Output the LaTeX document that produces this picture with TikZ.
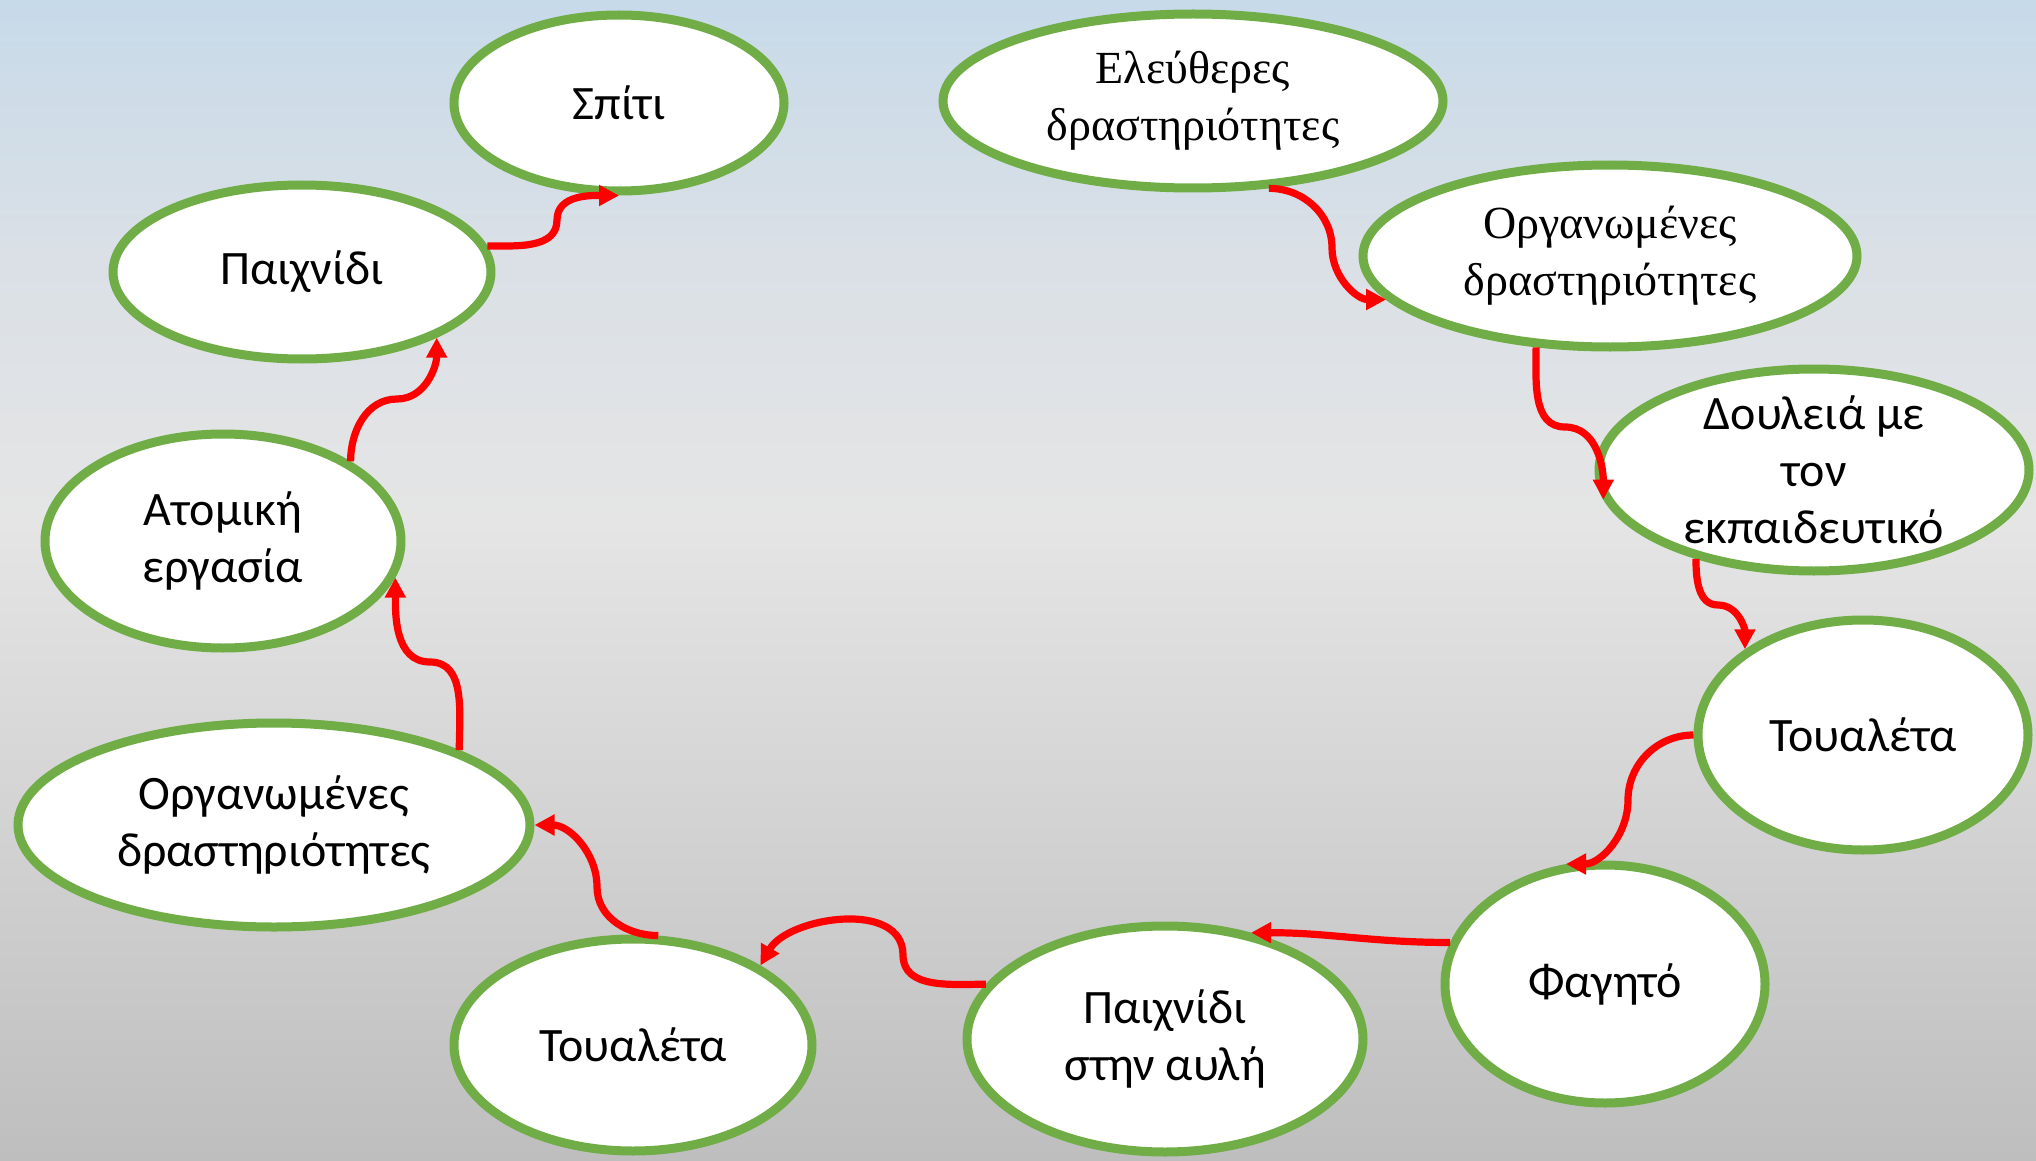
\documentclass[tikz,border=0pt]{standalone}
\usepackage{fontspec}
\setmainfont{Carlito}
\newfontfamily\grserif{Liberation Serif}
\usetikzlibrary{shapes.geometric,arrows.meta}
\definecolor{bgtop}{RGB}{199,218,233}
\definecolor{bgq}{RGB}{218,224,230}
\definecolor{bgmid}{RGB}{229,229,229}
\definecolor{bgbot}{RGB}{190,190,190}
\definecolor{ogreen}{RGB}{112,173,71}
\pgfdeclareverticalshading{bgshade}{100bp}{color(0bp)=(bgbot); color(25bp)=(bgbot); color(52.5bp)=(bgmid); color(64bp)=(bgq); color(75bp)=(bgtop); color(100bp)=(bgtop)}
\tikzset{
  bubble/.style={ellipse, draw=ogreen, line width=4.5pt, fill=white, inner sep=0pt, align=center,
    font=\fontsize{24}{28.5}\selectfont},
  sbubble/.style={bubble, font=\grserif\fontsize{23}{28.5}\selectfont},
  flow/.style={draw=red, line width=3.6pt, -{Triangle[length=10pt,width=10pt]}}
}
\begin{document}
\begin{tikzpicture}[x=0.5pt,y=0.5pt]
\useasboundingbox (0,0) rectangle (2036,-1161);
\shade[shading=bgshade] (0,0) rectangle (2036,-1161);

\node[bubble, minimum width=165pt, minimum height=88pt] (n1) at (619,-103) {Σπίτι};
\node[sbubble, minimum width=250pt, minimum height=87pt] (n2) at (1193,-101) {Ελεύθερες\\δραστηριότητες};
\node[bubble, minimum width=189pt, minimum height=87pt] (n3) at (302,-272) {Παιχνίδι};
\node[sbubble, minimum width=247pt, minimum height=91pt] (n4) at (1610,-256) {Οργανωμένες\\δραστηριότητες};
\node[bubble, minimum width=215pt, minimum height=101pt, inner ysep=-16pt] (n5) at (1814,-470) {Δουλειά με\\τον\\εκπαιδευτικό};
\node[bubble, minimum width=178pt, minimum height=107pt] (n6) at (223,-541) {Ατομική\\εργασία};
\node[bubble, minimum width=165pt, minimum height=115pt] (n7) at (1863,-735) {Τουαλέτα};
\node[bubble, minimum width=256pt, minimum height=102pt] (n8) at (274,-825) {Οργανωμένες\\δραστηριότητες};
\node[bubble, minimum width=160pt, minimum height=119pt] (n9) at (1605,-984) {Φαγητό};
\node[bubble, minimum width=198pt, minimum height=113pt] (n10) at (1165,-1039) {Παιχνίδι\\στην αυλή};
\node[bubble, minimum width=179pt, minimum height=106pt] (n11) at (633,-1045) {Τουαλέτα};

\coordinate (m1) at (557,-220);
\coordinate (m2) at (1332,-248);
\coordinate (m3) at (1565,-427);
\coordinate (m4) at (1718,-605);
\coordinate (m5) at (1628,-800);
\coordinate (m7) at (903,-955);
\coordinate (m8) at (597,-887);
\coordinate (m9) at (430,-662);
\coordinate (m10) at (397,-399);

\draw[flow] (n3.8) to[out=0,in=-90] (m1) to[out=90,in=180] (n1.south);
\draw[flow] (n2.-49) to[out=0,in=90] (m2) to[out=-90,in=180] (n4.191);
\draw[flow] (n4.-129) to[out=-90,in=180] (m3) to[out=0,in=90] (n5.188);
\draw[flow] (n5.-143) to[out=-90,in=180] (m4) to[out=0,in=90] (n7.144);
\draw[flow] (n7.180) to[out=180,in=90] (m5) to[out=-90,in=0] (n9.108);
\draw[flow] (n9.165) to[out=180,in=0] (n10.51);
\draw[flow] (n10.163) to[out=180,in=-90] (m7) to[out=90,in=60] (n11.32);
\draw[flow] (n11.77) to[out=180,in=-90] (m8) to[out=90,in=0] (n8.east);
\draw[flow] (n8.22) to[out=90,in=0] (m9) to[out=180,in=-90] (n6.-12);
\draw[flow] (n6.32) to[out=90,in=180] (m10) to[out=0,in=-90] (n3.-26);
\end{tikzpicture}
\end{document}
